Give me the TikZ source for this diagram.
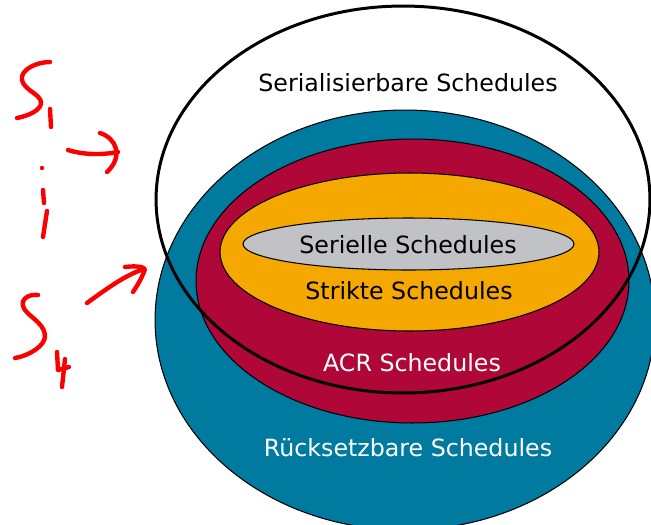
\documentclass[tikz,border=0pt]{standalone}
\usepackage{fontspec}
\setmainfont{DejaVu Sans}
\usepackage{xcolor}
\usetikzlibrary{arrows.meta,positioning,shapes.geometric}

\definecolor{rueckblue}{RGB}{0,122,158}
\definecolor{acrred}{RGB}{174,7,56}
\definecolor{striktorange}{RGB}{245,168,0}
\definecolor{seriellgray}{RGB}{192,194,198}
\definecolor{penred}{RGB}{250,0,0}

\tikzset{
  schedset/.style={ellipse,draw=black,line width=0.6pt,inner sep=0pt},
  setlabel/.style={font=\fontsize{13.5}{16}\selectfont,inner sep=0pt},
  pen/.style={draw=penred,line width=2.5pt,line cap=round,line join=round}
}

\begin{document}
\begin{tikzpicture}[x=0.02cm,y=-0.02cm]
\useasboundingbox (0,0) rectangle (651,524);
% nested sets
\node[schedset,fill=rueckblue,minimum width=10cm,minimum height=8.4cm] (rueck) at (405,320) {};
\node[schedset,fill=acrred,minimum width=8.66cm,minimum height=5.68cm] (acr) at (412.5,281) {};
\node[schedset,fill=striktorange,minimum width=7.58cm,minimum height=3.16cm] (strikt) at (409.5,252) {};
\node[schedset,fill=seriellgray,minimum width=6.62cm,minimum height=1.04cm] (seriell) at (408.5,244) {};
% serializable schedules
\node[ellipse,draw=black,line width=1.7pt,inner sep=0pt,minimum width=9.88cm,minimum height=7.74cm] (serial) at (403,199.5) {};

\node[setlabel] (serialtxt) at (408,83) {Serialisierbare Schedules};
\node[setlabel] (serielltxt) at (408,245) {Serielle Schedules};
\node[setlabel] (strikttxt) at (409,291) {Strikte Schedules};
\node[setlabel,text=white] (acrtxt) at (412,363) {ACR Schedules};
\node[setlabel,text=white] (ruecktxt) at (408,448) {Rücksetzbare Schedules};

% handwritten notes
\draw[pen] (50,62) .. controls (36,62) and (20,70) .. (22,80) .. controls (24,90) and (40,94) .. (41,102) .. controls (42,110) and (28,116) .. (17,118);
\draw[pen] (50,109) -- (51,127);
\fill[penred] (42,168) circle (2.2);
\draw[pen] (43,190) -- (44,203);
\draw[pen] (47,211) -- (43,237);
\draw[pen] (38,295) .. controls (30,294) and (21,298) .. (23,306) .. controls (25,315) and (44,322) .. (45,335) .. controls (46,346) and (28,356) .. (15,358);
\draw[pen] (57,352) -- (58,370) -- (69,367);
\draw[pen] (65,359) -- (62,387);
\coordinate (arrowa) at (118,152);
\coordinate (arrowb) at (144,269);
\draw[pen] (68,150) .. controls (84,155) and (102,155) .. (arrowa);
\draw[pen] (100,133) .. controls (116,138) and (124,156) .. (107,172);
\draw[pen] (87,303) .. controls (105,290) and (125,275) .. (arrowb);
\draw[pen] (125,267) .. controls (133,266) and (142,266) .. (145,269) .. controls (142,278) and (137,286) .. (133,292);
\end{tikzpicture}
\end{document}
